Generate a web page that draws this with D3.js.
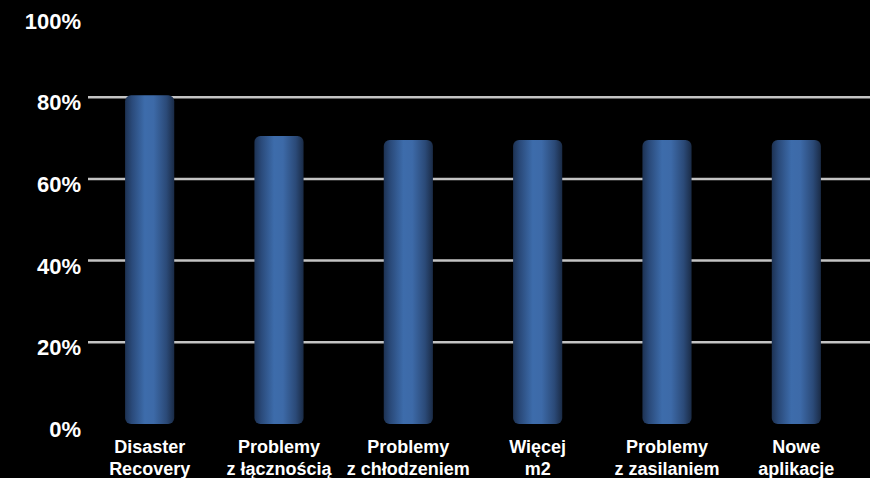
<!DOCTYPE html>
<meta charset="utf-8">
<style>
  body { margin: 0; background: #000; }
  svg { display: block; background: #000; }
  .tick-label { fill: #fff; font-family: "Liberation Sans", Arial, sans-serif; font-weight: bold; font-size: 22px; text-anchor: end; }
  .cat-label { fill: #fff; font-family: "Liberation Sans", Arial, sans-serif; font-weight: bold; font-size: 18px; text-anchor: middle; }
  .grid { stroke: #c4c4c4; stroke-width: 2.5; }
</style>
<body>
<script src="https://cdn.jsdelivr.net/npm/d3@7"></script>
<script>

var width = 870,
    height = 478;

// data
var categories = [
  ["Disaster", "Recovery"],
  ["Problemy", "z łącznością"],
  ["Problemy", "z chłodzeniem"],
  ["Więcej", "m2"],
  ["Problemy", "z zasilaniem"],
  ["Nowe", "aplikacje"]
];
var values = [80.5, 70.5, 69.5, 69.5, 69.5, 69.5];
var ticks = [0, 20, 40, 60, 80, 100];

var svg = d3.select("body").append("svg")
    .attr("width", width)
    .attr("height", height);

var x = d3.scaleBand()
    .domain(d3.range(categories.length))
    .range([85, 861])
    .paddingInner(0.62)
    .paddingOuter(0.31);

var y = d3.scaleLinear()
    .domain([0, 100])
    .range([424, 15.5]);

// bar gradient, dark edges, light middle
var grad = svg.append("defs").append("linearGradient")
    .attr("id", "barGrad")
    .attr("x1", "0%").attr("x2", "100%")
    .attr("y1", "0%").attr("y2", "0%");
[["0%", "#1d3253"], ["14%", "#2a4a7a"], ["40%", "#3d6cab"], ["58%", "#3d6aa8"], ["84%", "#2b4a78"], ["100%", "#1a2b46"]]
  .forEach(function(s) {
    grad.append("stop").attr("offset", s[0]).attr("stop-color", s[1]);
  });

// gridlines (not at 0 and 100)
svg.selectAll(".grid")
  .data(ticks.filter(function(t) { return t > 0 && t < 100; }))
  .enter().append("line")
    .attr("class", "grid")
    .attr("x1", 88).attr("x2", width)
    .attr("y1", function(d) { return y(d); })
    .attr("y2", function(d) { return y(d); });

// bars
svg.selectAll(".bar")
  .data(values)
  .enter().append("rect")
    .attr("class", "bar")
    .attr("x", function(d, i) { return x(i); })
    .attr("width", x.bandwidth())
    .attr("y", function(d) { return y(d); })
    .attr("height", function(d) { return y(0) - y(d); })
    .attr("rx", 6).attr("ry", 6)
    .attr("fill", "url(#barGrad)");

// y tick labels
svg.selectAll(".tick-label")
  .data(ticks)
  .enter().append("text")
    .attr("class", "tick-label")
    .attr("x", 81)
    .attr("y", function(d) { return y(d) + 13; })
    .text(function(d) { return d + "%"; });

// category labels, two lines each
var cat = svg.selectAll(".cat-label")
  .data(categories)
  .enter().append("text")
    .attr("class", "cat-label")
    .attr("x", function(d, i) { return x(i) + x.bandwidth() / 2; })
    .attr("y", 453);

cat.selectAll("tspan")
  .data(function(d) { return d; })
  .enter().append("tspan")
    .attr("x", function() { return d3.select(this.parentNode).attr("x"); })
    .attr("dy", function(d, i) { return i ? 21.5 : 0; })
    .text(function(d) { return d; });

</script>
